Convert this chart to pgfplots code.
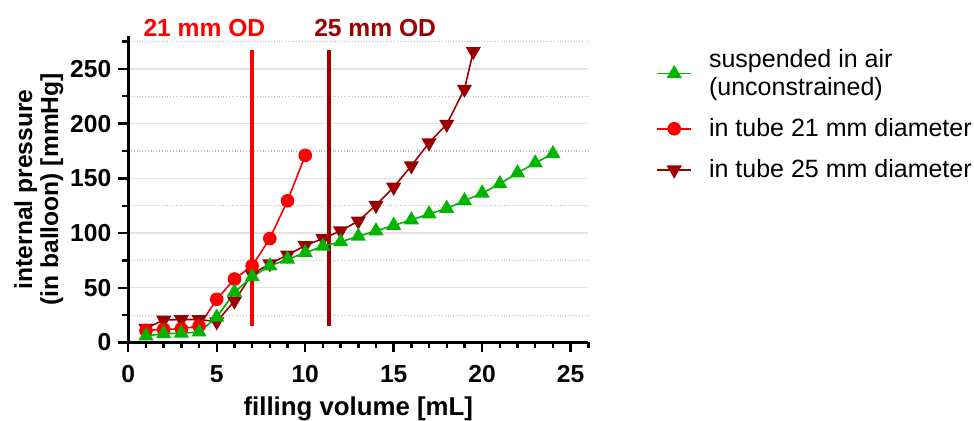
\documentclass[border=0pt]{standalone}
\usepackage{fontspec}
\setmainfont{Liberation Sans}
\usepackage{pgfplots}
\pgfplotsset{compat=1.18}
\definecolor{airgreen}{HTML}{00B400}
\definecolor{tubered}{HTML}{FF0000}
\definecolor{tubedark}{HTML}{9A0000}
\definecolor{gridgray}{HTML}{E3E3E3}
\newcommand{\lbl}{\fontsize{12.3}{13}\selectfont\bfseries}

\begin{document}
\begin{tikzpicture}
\path[use as bounding box] (-64.15pt,-39.25pt) rectangle (422.85pt,171.25pt);
\begin{axis}[
  scale only axis, width=230pt, height=153.2pt,
  xmin=0, xmax=26, ymin=0, ymax=280,
  axis lines=left, axis line style={-, line width=1.4pt, black},
  xtick={0,5,...,25}, minor xtick={1,...,26},
  ytick={0,50,...,250}, minor ytick={25,75,...,275},
  tick align=outside, major tick length=5pt, minor tick length=3pt,
  tick style={line width=1.2pt, black},
  ymajorgrids, yminorgrids,
  major grid style={gridgray, line width=.6pt},
  minor grid style={densely dotted, black!25, line width=.6pt},
  ticklabel style={font=\lbl},
  xticklabel shift=3pt,
  /pgf/number format/assume math mode=true,
  xlabel={filling volume [mL]},
  ylabel={internal pressure\\(in balloon) [mmHg]},
  xlabel style={font=\fontsize{12.9}{14}\selectfont\bfseries},
  ylabel style={font=\fontsize{12.3}{13}\selectfont\bfseries, align=center},
  xlabel shift=0pt, ylabel shift=-3.5pt,
  clip=false,
  reverse legend,
  legend cell align=left,
  legend style={at={(1.134,0.985)}, anchor=north west, draw=none, fill=none,
    font=\fontsize{12.5}{14}\selectfont, cells={align=left}, row sep=6pt,
    column sep=6.5pt},
]
% tube outer diameters
\addplot[tubered, line width=2.2pt, forget plot] coordinates {(7,15) (7,267)};
\addplot[tubedark, line width=2.2pt, forget plot] coordinates {(11.35,15) (11.35,267)};

\addplot[tubedark, line width=.8pt, mark=triangle*, mark size=3.6pt,
  mark options={rotate=180, fill=tubedark}] coordinates {
  (1,13) (2,20.5) (3,21) (4,21) (5,19) (6,38) (7,62.5) (8,72) (9,80) (10,88.5)
  (11,95) (12,102) (13,111) (14,125.5) (15,142) (16,161.5) (17,182.5)
  (18,199.5) (19,231.5) (19.5,266)};
\addlegendentry{in tube 25 mm diameter}

\addplot[tubered, line width=.8pt, mark=*, mark size=3pt,
  mark options={fill=tubered}] coordinates {
  (1,11) (2,12) (3,12.5) (4,15) (5,39.5) (6,58) (7,70) (8,95) (9,129.5) (10,171)};
\addlegendentry{in tube 21 mm diameter}

\addplot[airgreen, line width=.8pt, mark=triangle*, mark size=3.6pt,
  mark options={fill=airgreen}] coordinates {
  (1,6) (2,8) (3,8.5) (4,9.5) (5,23) (6,46) (7,60) (8,70) (9,76) (10,82)
  (11,88) (12,92) (13,97) (14,102) (15,107) (16,112) (17,117.5) (18,122.5)
  (19,129.5) (20,136.5) (21,145) (22,155) (23,164) (24,172.5)};
\addlegendentry{suspended in air\\(unconstrained)}

\node[font=\lbl, text=tubered] at (axis cs:4.3,287.5) {21 mm OD};
\node[font=\lbl, text=tubedark] at (axis cs:13.95,287.5) {25 mm OD};
\end{axis}
\end{tikzpicture}
\end{document}
